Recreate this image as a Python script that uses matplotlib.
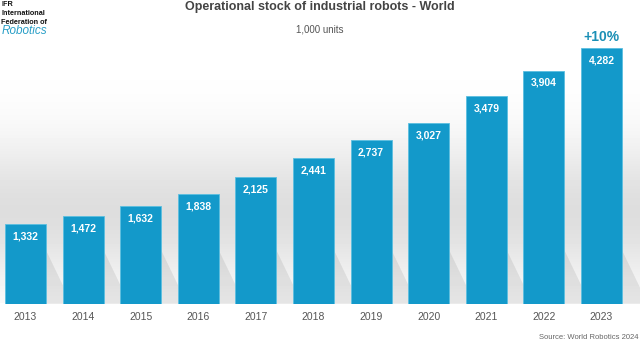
import numpy as np
import matplotlib
matplotlib.use("Agg")
import matplotlib.pyplot as plt
from matplotlib.patches import Polygon

# data (1,000 units)
years = ["2013", "2014", "2015", "2016", "2017", "2018",
         "2019", "2020", "2021", "2022", "2023"]
stock = [1332, 1472, 1632, 1838, 2125, 2441, 2737, 3027, 3479, 3904, 4282]
value_labels = ["1,332", "1,472", "1,632", "1,838", "2,125", "2,441",
                "2,737", "3,027", "3,479", "3,904", "4,282"]
growth_label = "+10%"

bar_color = "#1399CA"
text_grey = "#555555"

plt.rcParams['font.family'] = ['Liberation Sans', 'DejaVu Sans']

fig = plt.figure(figsize=(6.4, 3.53), dpi=100)

# grey gradient backdrop
bg = fig.add_axes([0, 0, 1, 1], zorder=0)
rows = np.linspace(0, 1, 353)
shade = 1 - 0.13 * np.exp(-((rows - 0.6) / 0.2) ** 2)
shade[rows > 0.86] = 1.0
img = np.repeat(shade[:, None], 2, axis=1)
bg.imshow(img, cmap="gray", vmin=0, vmax=1, aspect="auto", extent=[0, 1, 0, 1])
bg.axis("off")

ax = fig.add_axes([0, 0.1388, 1, 0.8470], zorder=1)
ax.patch.set_alpha(0)
x = np.arange(len(years))
width = 0.71

# soft shadows to the lower right of each bar
for xi in x:
    h = 900
    shadow = Polygon([[xi + width / 2, 0], [xi + width / 2, h],
                      [xi + width / 2 + 0.45, 0]],
                     closed=True, color="#000000", alpha=0.08, lw=0, zorder=1)
    ax.add_patch(shadow)

ax.bar(x, stock, width=width, color=bar_color, edgecolor="#5bbfe0", lw=0.6, zorder=2)

for xi, v, lab in zip(x, stock, value_labels):
    ax.text(xi, v - 120, lab, ha="center", va="top", color="white",
            fontsize=7.5, fontweight="bold", zorder=3)

ax.text(x[-1], stock[-1] + 60, growth_label, ha="center", va="bottom",
        color="#1a8fb5", fontsize=10, fontweight="bold")

ax.set_xlim(-0.443, 10.668)
ax.set_ylim(0, 5000)
ax.set_xticks(x)
ax.set_xticklabels(years, color=text_grey, fontsize=7.5)
ax.tick_params(axis="x", length=0, pad=6)
ax.set_yticks([])
for s in ax.spines.values():
    s.set_visible(False)

fig.text(0.5, 0.998, "Operational stock of industrial robots - World", ha="center",
         va="top", fontsize=9, fontweight="bold", color="#444444")
fig.text(0.5, 0.93, "1,000 units", ha="center", va="top", fontsize=7, color=text_grey)
fig.text(0.997, 0.045, "Source: World Robotics 2024", ha="right", va="center",
         fontsize=5.5, color="#666666")

# logo text
fig.text(0.002, 0.998, "IFR\nInternational\nFederation of", ha="left", va="top",
         fontsize=5.2, fontweight="bold", color="#111111", linespacing=1.45)
fig.text(0.002, 0.912, "Robotics", ha="left", va="center", fontsize=8.5,
         style="italic", color="#2a9fc7")

fig.savefig("out.png", dpi=100)
